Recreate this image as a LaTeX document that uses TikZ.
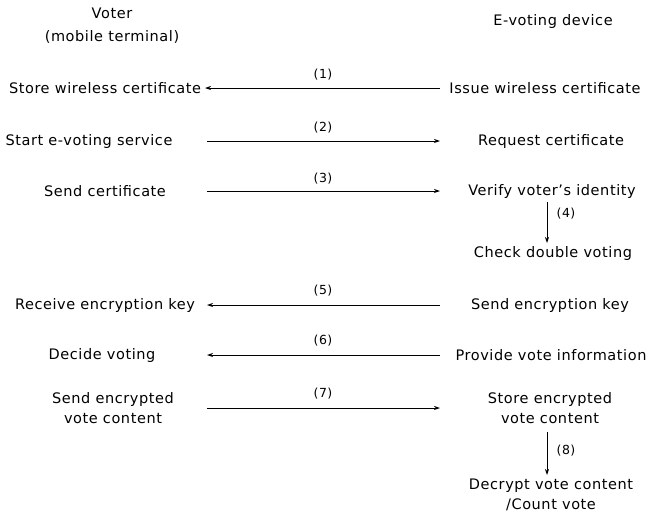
\documentclass[tikz,border=0pt]{standalone}
\usepackage{fontspec}
\setmainfont[LetterSpace=4]{DejaVu Sans}
\usetikzlibrary{arrows.meta}
\begin{document}
\begin{tikzpicture}[x=1pt,y=-1pt,
  every node/.style={inner sep=0pt,align=center,font=\fontsize{14.5}{20}\selectfont},
  lbl/.style={font=\fontsize{12.5}{14}\selectfont},
  msg/.style={line width=0.8pt,-{Stealth[length=6pt,width=4pt]}}]
\path[use as bounding box] (0,0) rectangle (651,512);
% headers
\node (voter) at (112,26) {Voter\\[3pt](mobile terminal)};
\node (dev) at (553,21) {E-voting device};
% left column
\node (l1) at (105,88) {Store wireless certificate};
\node (l2) at (89,141) {Start e-voting service};
\node (l3) at (105,191) {Send certificate};
\node (l5) at (105,305) {Receive encryption key};
\node (l6) at (102,355) {Decide voting};
\node (l7) at (113,408) {Send encrypted\\vote content};
% right column
\node (r1) at (545,88) {Issue wireless certificate};
\node (r2) at (551,141) {Request certificate};
\node (r3) at (552,191) {Verify voter's identity};
\node (r4) at (553,253) {Check double voting};
\node (r5) at (550,305) {Send encryption key};
\node (r6) at (551,355) {Provide vote information};
\node (r7) at (550,408) {Store encrypted\\vote content};
\node (r8) at (551,495) {Decrypt vote content\\/Count vote};
% connector endpoints
\coordinate (a1s) at (440,88);  \coordinate (a1e) at (205,88);
\coordinate (a2s) at (207,141); \coordinate (a2e) at (440,141);
\coordinate (a3s) at (207,191); \coordinate (a3e) at (440,191);
\coordinate (a5s) at (440,305); \coordinate (a5e) at (207,305);
\coordinate (a6s) at (440,355); \coordinate (a6e) at (207,355);
\coordinate (a7s) at (207,408); \coordinate (a7e) at (440,408);
\coordinate (a4s) at (547,202); \coordinate (a4e) at (547,243);
\coordinate (a8s) at (547,432); \coordinate (a8e) at (547,475);
% messages
\draw[msg] (a1s) -- (a1e);
\draw[msg] (a2s) -- (a2e);
\draw[msg] (a3s) -- (a3e);
\draw[msg] (a5s) -- (a5e);
\draw[msg] (a6s) -- (a6e);
\draw[msg] (a7s) -- (a7e);
\draw[msg] (a4s) -- (a4e);
\draw[msg] (a8s) -- (a8e);
% labels
\node[lbl] (n1) at (323,75) {(1)};
\node[lbl] (n2) at (323,128) {(2)};
\node[lbl] (n3) at (323,179) {(3)};
\node[lbl] (n4) at (566,214) {(4)};
\node[lbl] (n5) at (323,291) {(5)};
\node[lbl] (n6) at (323,341) {(6)};
\node[lbl] (n7) at (323,394) {(7)};
\node[lbl] (n8) at (566,451) {(8)};
\end{tikzpicture}
\end{document}
